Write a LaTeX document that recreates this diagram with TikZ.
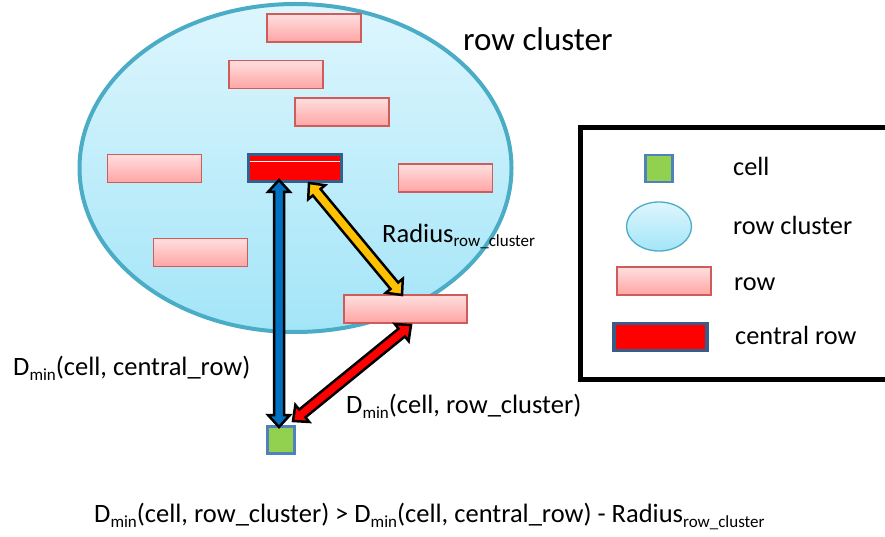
\documentclass[tikz,border=0pt]{standalone}
\usepackage{fontspec}
\setmainfont{Carlito}
\usetikzlibrary{calc,shapes.geometric}
\definecolor{clborder}{RGB}{75,172,198}
\definecolor{cltop}{RGB}{222,246,253}
\definecolor{clbot}{RGB}{163,229,248}
\definecolor{rowtop}{RGB}{255,222,222}
\definecolor{rowbot}{RGB}{255,165,165}
\definecolor{rowborder}{RGB}{205,92,90}
\definecolor{crborder}{RGB}{56,93,138}
\definecolor{cellfill}{RGB}{146,208,80}
\definecolor{cellborder}{RGB}{79,129,189}
\definecolor{arrblue}{RGB}{0,112,192}
\definecolor{arryellow}{RGB}{255,192,0}
\definecolor{arrred}{RGB}{255,0,0}
\newcommand\sbs[1]{\raisebox{-5pt}{\fontsize{17}{17}\selectfont #1}}
\newcommand\blockarr[3]{%
  \draw[arrowline, fill=#3] (#1)
   -- ($(#1)!12pt!(#2)!11pt!90:(#2)$)
   -- ($(#1)!12pt!(#2)!5pt!90:(#2)$)
   -- ($(#2)!12pt!(#1)!5pt!-90:(#1)$)
   -- ($(#2)!12pt!(#1)!11pt!-90:(#1)$)
   -- (#2)
   -- ($(#2)!12pt!(#1)!11pt!90:(#1)$)
   -- ($(#2)!12pt!(#1)!5pt!90:(#1)$)
   -- ($(#1)!12pt!(#2)!5pt!-90:(#2)$)
   -- ($(#1)!12pt!(#2)!11pt!-90:(#2)$)
   -- cycle;}
\begin{document}
\begin{tikzpicture}[x=1pt,y=-1pt,
  rowbox/.style={rectangle, draw=rowborder, line width=1.3pt, top color=rowtop, bottom color=rowbot, minimum width=94pt, minimum height=28pt, inner sep=0pt},
  crowbox/.style={rectangle, draw=crborder, line width=3pt, fill=red, minimum width=93pt, minimum height=27pt, inner sep=0pt},
  cellbox/.style={rectangle, draw=cellborder, line width=2.5pt, fill=cellfill, minimum width=27pt, minimum height=27pt, inner sep=0pt},
  arrowline/.style={draw=black, line width=2.5pt, line join=miter, miter limit=10},
  lbl/.style={anchor=base west, inner sep=0pt, font=\fontsize{26.5}{30}\selectfont},
  leglbl/.style={anchor=base west, inner sep=0pt, font=\fontsize{26.3}{30}\selectfont},
]
\useasboundingbox (0,0) rectangle (885,537);
\clip (0,0) rectangle (885,537);
% cluster
\node[ellipse, draw=clborder, line width=4pt, top color=cltop, bottom color=clbot, minimum width=432pt, minimum height=328pt, inner sep=0pt] (cluster) at (295.5,168) {};
% rows
\node[rowbox] (r1) at (314,28) {};
\node[rowbox] (r2) at (276,74.5) {};
\node[rowbox] (r3) at (342,112) {};
\node[rowbox] (r4) at (154.5,168.5) {};
\node[rowbox] (r5) at (445.5,178) {};
\node[rowbox] (r6) at (200.5,252.5) {};
\node[rowbox, minimum width=123pt] (r8) at (405.5,309) {};
\node[crowbox] (central) at (295,168.5) {};
\draw[white, line width=0.8pt] ([xshift=3pt,yshift=-8pt]central.north west) -- ([xshift=-3pt,yshift=-8pt]central.north east);
\node[cellbox] (cell) at (281,440) {};
% arrows
\coordinate (bA) at (279,180);
\coordinate (bB) at (279,427);
\coordinate (yA) at (309,183);
\coordinate (yB) at (402,295);
\coordinate (rA) at (411,325);
\coordinate (rB) at (293,421);
\blockarr{bA}{bB}{arrblue}
\blockarr{yA}{yB}{arryellow}
\blockarr{rA}{rB}{arrred}
% labels
\node[anchor=base west, inner sep=0pt, font=\fontsize{33}{38}\selectfont] (title) at (463,51) {row cluster};
\node[lbl] (radius) at (382,242) {Radius\sbs{row\_cluster}};
\node[lbl] (dcentral) at (13,375) {D\sbs{min}(cell, central\_row)};
\node[lbl] (dcluster) at (346,413) {D\sbs{min}(cell, row\_cluster)};
\node[lbl] (formula) at (94,522) {D\sbs{min}(cell, row\_cluster) > D\sbs{min}(cell, central\_row) - Radius\sbs{row\_cluster}};
% legend
\draw[line width=5pt] (580,127.5) rectangle (900,379.5);
\node[cellbox] (lcell) at (659,168.5) {};
\node[ellipse, draw=clborder, line width=1.3pt, top color=cltop, bottom color=clbot, minimum width=65pt, minimum height=49pt, inner sep=0pt] (lcluster) at (659,226.5) {};
\node[rowbox] (lrow) at (664,281) {};
\node[crowbox, line width=3.5pt] (lcentral) at (660.5,337) {};
\node[leglbl] (tcell) at (733,176) {cell};
\node[leglbl] (tcluster) at (733,234) {row cluster};
\node[leglbl] (trow) at (734,290) {row};
\node[leglbl] (tcentral) at (735,344) {central row};
\end{tikzpicture}
\end{document}
